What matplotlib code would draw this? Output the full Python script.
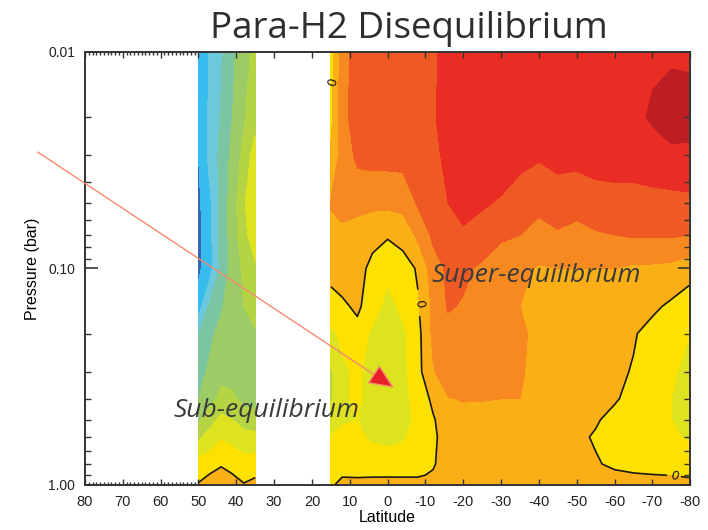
import matplotlib
matplotlib.use("Agg")

import numpy as np
import matplotlib.pyplot as plt
from matplotlib.colors import ListedColormap, BoundaryNorm
from matplotlib.ticker import FixedLocator, FixedFormatter, LogLocator, NullFormatter

plt.rcParams["axes.unicode_minus"] = False

# pressure levels (bar), top to bottom
pressure = [0.01, 0.02, 0.03, 0.05, 0.07, 0.1, 0.15, 0.2, 0.3, 0.4, 0.5, 0.6, 0.8, 0.9, 1.0]

# northern band (50N - 35N)
lat_north = [50, 47, 44, 41, 38, 35]
diseq_north = [
    [-0.069, -0.059, -0.051, -0.042, -0.034, -0.027],
    [-0.069, -0.058, -0.049, -0.040, -0.031, -0.024],
    [-0.070, -0.057, -0.047, -0.037, -0.027, -0.015],
    [-0.072, -0.062, -0.047, -0.035, -0.021, -0.013],
    [-0.073, -0.063, -0.046, -0.036, -0.023, -0.014],
    [-0.072, -0.064, -0.047, -0.036, -0.028, -0.022],
    [-0.065, -0.048, -0.041, -0.035, -0.030, -0.027],
    [-0.050, -0.042, -0.037, -0.034, -0.032, -0.031],
    [-0.044, -0.038, -0.033, -0.034, -0.035, -0.034],
    [-0.040, -0.034, -0.027, -0.028, -0.033, -0.034],
    [-0.032, -0.024, -0.017, -0.020, -0.025, -0.026],
    [-0.022, -0.016, -0.011, -0.013, -0.016, -0.017],
    [-0.005, -0.004, -0.001, -0.004, -0.006, -0.005],
    [-0.003, 0.0005, 0.003, 0.0005, -0.004, -0.001],
    [0.001, 0.004, 0.007, 0.004, 0.001, 0.003],
]

# southern band (15N - 80S)
lat_south = [15, 12, 8, 4, 0, -4, -8, -12, -16, -20, -25, -30, -35, -40, -45,
             -50, -55, -60, -65, -70, -75, -80]
diseq_south = [
    [-0.004, 0.015, 0.025, 0.027, 0.028, 0.028, 0.028, 0.029, 0.032, 0.035, 0.036,
     0.037, 0.037, 0.037, 0.038, 0.036, 0.037, 0.037, 0.038, 0.039, 0.039, 0.039],
    [-0.003, 0.016, 0.026, 0.027, 0.027, 0.027, 0.028, 0.029, 0.034, 0.036, 0.036,
     0.037, 0.037, 0.036, 0.036, 0.036, 0.037, 0.037, 0.038, 0.041, 0.044, 0.043],
    [0.002, 0.014, 0.022, 0.023, 0.023, 0.023, 0.024, 0.027, 0.033, 0.036, 0.035,
     0.034, 0.032, 0.031, 0.033, 0.033, 0.034, 0.034, 0.034, 0.036, 0.038, 0.038],
    [0.011, 0.014, 0.013, 0.012, 0.012, 0.013, 0.021, 0.026, 0.030, 0.032, 0.031,
     0.029, 0.026, 0.022, 0.024, 0.022, 0.025, 0.026, 0.026, 0.026, 0.026, 0.027],
    [0.006, 0.007, 0.005, 0.003, 0.001, 0.003, 0.012, 0.022, 0.027, 0.029, 0.026,
     0.021, 0.020, 0.017, 0.019, 0.018, 0.019, 0.020, 0.021, 0.021, 0.021, 0.020],
    [0.003, 0.005, 0.004, -0.003, -0.008, -0.004, 0.001, 0.015, 0.022, 0.022, 0.018,
     0.016, 0.012, 0.009, 0.010, 0.010, 0.010, 0.010, 0.008, 0.008, 0.007, 0.003],
    [-0.004, -0.002, 0.002, -0.006, -0.013, -0.008, -0.001, 0.012, 0.021, 0.019, 0.016,
     0.014, 0.010, 0.007, 0.007, 0.007, 0.006, 0.006, 0.005, 0.002, -0.002, -0.005],
    [-0.012, -0.008, -0.004, -0.012, -0.015, -0.012, -0.003, 0.012, 0.016, 0.016, 0.015,
     0.014, 0.012, 0.007, 0.006, 0.006, 0.005, 0.004, 0.001, -0.004, -0.007, -0.010],
    [-0.021, -0.012, -0.008, -0.014, -0.017, -0.013, -0.003, 0.009, 0.016, 0.016, 0.014,
     0.013, 0.011, 0.007, 0.008, 0.006, 0.005, 0.003, -0.001, -0.005, -0.009, -0.012],
    [-0.021, -0.012, -0.008, -0.014, -0.016, -0.013, -0.006, 0.002, 0.0095, 0.0105, 0.0105,
     0.010, 0.010, 0.007, 0.006, 0.005, 0.004, 0.001, -0.003, -0.006, -0.010, -0.013],
    [-0.016, -0.011, -0.010, -0.013, -0.015, -0.013, -0.008, -0.001, 0.006, 0.007, 0.006,
     0.006, 0.006, 0.006, 0.005, 0.004, 0.001, -0.003, -0.005, -0.007, -0.010, -0.013],
    [-0.009, -0.008, -0.009, -0.011, -0.012, -0.011, -0.007, -0.002, 0.005, 0.006, 0.006,
     0.006, 0.005, 0.005, 0.004, 0.002, -0.001, -0.004, -0.005, -0.007, -0.009, -0.011],
    [-0.004, -0.005, -0.006, -0.006, -0.006, -0.005, -0.004, -0.001, 0.005, 0.006, 0.006,
     0.005, 0.005, 0.004, 0.004, 0.003, 0.001, -0.002, -0.004, -0.005, -0.005, -0.005],
    [-0.001, -0.0005, -0.001, -0.001, -0.001, -0.001, -0.001, 0.001, 0.004, 0.005, 0.005,
     0.005, 0.004, 0.004, 0.004, 0.003, 0.003, 0.002, 0.001, 0.0003, -0.0002, -0.001],
    [-0.001, 0.002, 0.003, 0.004, 0.004, 0.004, 0.004, 0.005, 0.006, 0.006, 0.006,
     0.006, 0.005, 0.005, 0.005, 0.005, 0.005, 0.005, 0.004, 0.004, 0.004, 0.003],
]

levels = [-0.08, -0.07, -0.06, -0.05, -0.04, -0.03, -0.02, -0.01, 0.0,
          0.01, 0.02, 0.03, 0.04, 0.06]
colors = ["#3566b0", "#36bdee", "#6cc8dc", "#7cc5a2", "#9dcb65", "#b4d443",
          "#dde31e", "#fde100", "#fbaf17", "#f6891f", "#ef5a24", "#e92d25", "#bc1e24"]

xticks = list(range(80, -81, -10))
xtick_labels = [str(t) for t in xticks]

cmap = ListedColormap(colors)
norm = BoundaryNorm(levels, cmap.N)

fig = plt.figure(figsize=(7.08, 5.30), dpi=100)
ax = fig.add_axes([0.120, 0.085, 0.855, 0.817])

zn = np.array(diseq_north)
zs = np.array(diseq_south)
ax.contourf(lat_north, pressure, zn, levels=levels, cmap=cmap, norm=norm)
ax.contourf(lat_south, pressure, zs, levels=levels, cmap=cmap, norm=norm)
ax.contour(lat_north, pressure, zn, levels=[0], colors="#1a1a1a", linewidths=1.2)
cs = ax.contour(lat_south, pressure, zs, levels=[0], colors="#1a1a1a", linewidths=1.2)
ax.clabel(cs, fmt="0", fontsize=9, manual=[(14.3, 0.014), (-8, 0.146), (-76, 0.9)],
          inline=True)

ax.set_yscale("log")
ax.set_xlim(80, -80)
ax.set_ylim(1.0, 0.01)

ax.xaxis.set_major_locator(FixedLocator(xticks))
ax.xaxis.set_major_formatter(FixedFormatter(xtick_labels))
ax.xaxis.set_minor_locator(FixedLocator(list(range(51, 80))))
ax.yaxis.set_major_locator(FixedLocator([0.01, 0.1, 1.0]))
ax.yaxis.set_major_formatter(FixedFormatter(["0.01", "0.10", "1.00"]))
ax.yaxis.set_minor_locator(LogLocator(base=10, subs=np.arange(2, 10)))
ax.yaxis.set_minor_formatter(NullFormatter())

ax.tick_params(which="both", direction="in", top=True, right=True,
               colors="#333333", labelcolor="#222222")
ax.tick_params(axis="x", which="major", length=4, width=1, pad=7, labelsize=10.5)
ax.tick_params(axis="x", which="minor", length=2, width=1)
ax.tick_params(axis="y", which="major", length=9, width=1.2, pad=7, labelsize=10)
ax.tick_params(axis="y", which="minor", length=4, width=1)
for label in ax.get_xticklabels() + ax.get_yticklabels():
    label.set_family("Liberation Sans")
for sp in ax.spines.values():
    sp.set_linewidth(1.4)
    sp.set_color("#333333")

ax.set_xlabel("Latitude", fontsize=11.5, family="Liberation Sans", labelpad=1)
ax.set_ylabel("Pressure (bar)", fontsize=11.5, family="Liberation Sans", labelpad=6)

fig.text(0.577, 0.928, "Para-H2 Disequilibrium", fontsize=26.5, family="Open Sans",
         color="#2e2e2e", ha="center", va="baseline")

ax.text(-39.3, 0.115, "Super-equilibrium", fontsize=19, family="Open Sans",
        style="italic", color="#3a3a3a", ha="center", va="baseline")
ax.text(32.1, 0.484, "Sub-equilibrium", fontsize=19, family="Open Sans",
        style="italic", color="#3a3a3a", ha="center", va="baseline")

ax.annotate("", xy=(-1.7, 0.356), xytext=(92.5, 0.029), annotation_clip=False,
            arrowprops=dict(arrowstyle="-|>,head_length=1.6,head_width=0.7",
                            ec="#f58a6e", fc="#e8202a", lw=1, shrinkA=0, shrinkB=0))

fig.savefig("out.png", dpi=100)
plt.close(fig)
